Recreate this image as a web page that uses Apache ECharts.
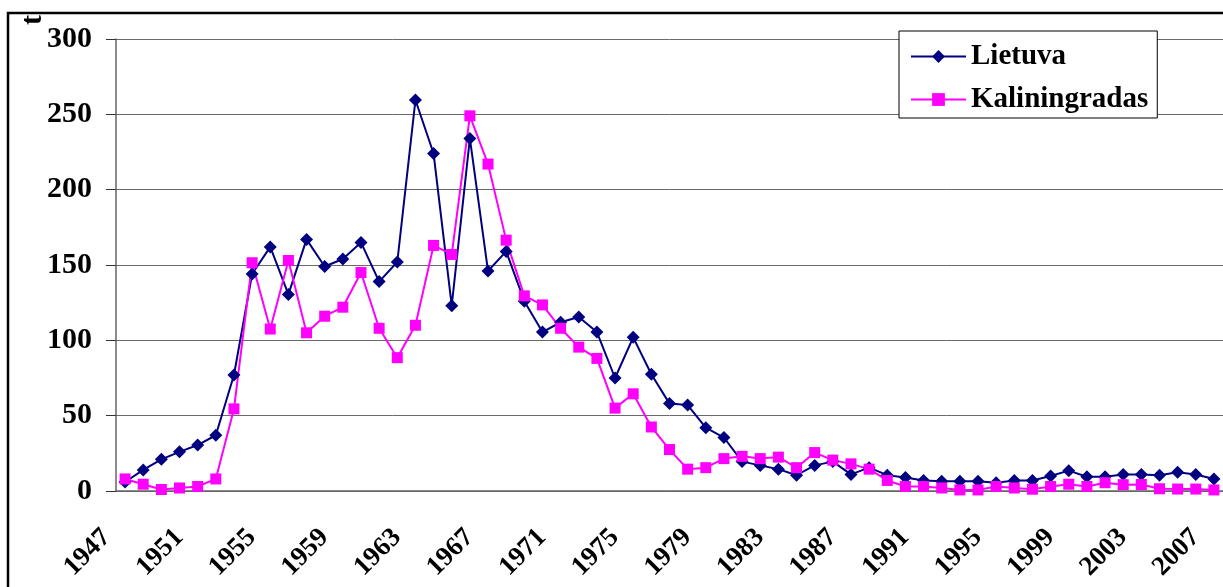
<!DOCTYPE html>
<html>
<head>
<meta charset="utf-8">
<script src="https://cdn.jsdelivr.net/npm/echarts@6/dist/echarts.min.js"></script>
<style>
  html, body { margin: 0; padding: 0; background: #fff; }
  #chart-container { width: 1223px; height: 587px; }
</style>
</head>
<body>
<div id="chart-container"></div>
<script>
// years on the category axis
const years = [];
for (let y = 1947; y <= 2007; y++) years.push(String(y));

// catches, tonnes
const lietuva = [
  6, 14, 21, 26, 30.5, 37, 77, 144, 162, 130.5,
  167, 149, 154, 165, 139, 152, 259.5, 224, 123, 234,
  146, 159, 126, 105.5, 112, 115.5, 105.5, 75, 102, 77.5,
  58, 57, 42, 35.5, 19.5, 17, 14.5, 10.5, 17, 19.5,
  11, 15.5, 10.5, 9, 7, 6.5, 6.5, 6.5, 5.5, 7,
  7, 10, 13.5, 9.5, 9.5, 11, 11, 10.5, 12.5, 11,
  8
];

const kaliningradas = [
  8, 4.5, 1, 2, 3, 8, 54.5, 151.5, 107.5, 153,
  105, 116, 122, 145, 108, 88.5, 110, 163, 157, 249,
  217, 166.5, 129.5, 123.5, 108, 95.5, 88, 55, 64.5, 42.5,
  27.5, 14.5, 15.5, 21.5, 23, 21.5, 22.5, 15.5, 25.5, 20.5,
  18, 14.5, 7, 3, 3, 2, 0.7, 0.7, 3, 2,
  1.2, 3, 4.5, 3, 5.5, 4.2, 4.3, 1.5, 1.3, 1.3,
  0.7
];

const seriesNames = ['Lietuva', 'Kaliningradas'];
const seriesColors = ['#000080', '#ff00ff'];

const serif = '"Liberation Serif", "DejaVu Serif", serif';

var dom = document.getElementById('chart-container');
var myChart = echarts.init(dom, null, { renderer: 'canvas' });

var option = {
  animation: false,
  backgroundColor: '#fff',
  grid: { left: 116, top: 39, width: 1120, height: 452 },
  graphic: [
    {
      // outer frame of the chart area, cut at right and bottom
      type: 'rect',
      shape: { x: 8, y: 13, width: 1400, height: 800 },
      style: { fill: 'none', stroke: '#000', lineWidth: 2.5 },
      silent: true
    },
    {
      type: 'text',
      x: 33, y: 20,
      rotation: Math.PI / 2,
      style: {
        text: 't',
        font: 'bold 30px ' + serif,
        fill: '#000',
        align: 'center',
        verticalAlign: 'middle'
      }
    }
  ],
  legend: {
    data: seriesNames,
    orient: 'vertical',
    left: 899,
    top: 31,
    padding: [11, 9, 4, 11],
    itemGap: 14,
    itemWidth: 55,
    itemHeight: 16,
    borderColor: '#000',
    borderWidth: 1,
    backgroundColor: '#fff',
    textStyle: { fontFamily: serif, fontWeight: 'bold', fontSize: 29, color: '#000' }
  },
  xAxis: {
    type: 'category',
    data: years,
    boundaryGap: true,
    axisLine: { lineStyle: { color: '#666', width: 1.5 } },
    axisTick: { interval: 0, length: 10, lineStyle: { color: '#333' } },
    axisLabel: {
      interval: 3,
      rotate: 45,
      margin: 24,
      padding: [0, 26, 0, 0],
      fontFamily: serif,
      fontWeight: 'bold',
      fontSize: 27,
      color: '#000'
    }
  },
  yAxis: {
    type: 'value',
    min: 0,
    max: 300,
    interval: 50,
    axisLine: { show: true, lineStyle: { color: '#666', width: 1.5 } },
    axisTick: { show: true, length: 10, lineStyle: { color: '#333' } },
    axisLabel: {
      margin: 24,
      fontFamily: serif,
      fontWeight: 'bold',
      fontSize: 30,
      color: '#000'
    },
    splitLine: { lineStyle: { color: '#6a6a6a', width: 1 } }
  },
  series: [
    {
      name: seriesNames[0],
      type: 'line',
      data: lietuva,
      symbol: 'diamond',
      symbolSize: 13,
      showAllSymbol: true,
      itemStyle: { color: seriesColors[0] },
      lineStyle: { color: seriesColors[0], width: 2 }
    },
    {
      name: seriesNames[1],
      type: 'line',
      data: kaliningradas,
      symbol: 'rect',
      symbolSize: 11,
      showAllSymbol: true,
      itemStyle: { color: seriesColors[1] },
      lineStyle: { color: seriesColors[1], width: 2 }
    }
  ]
};

myChart.setOption(option);
window.addEventListener('resize', myChart.resize);
</script>
</body>
</html>
